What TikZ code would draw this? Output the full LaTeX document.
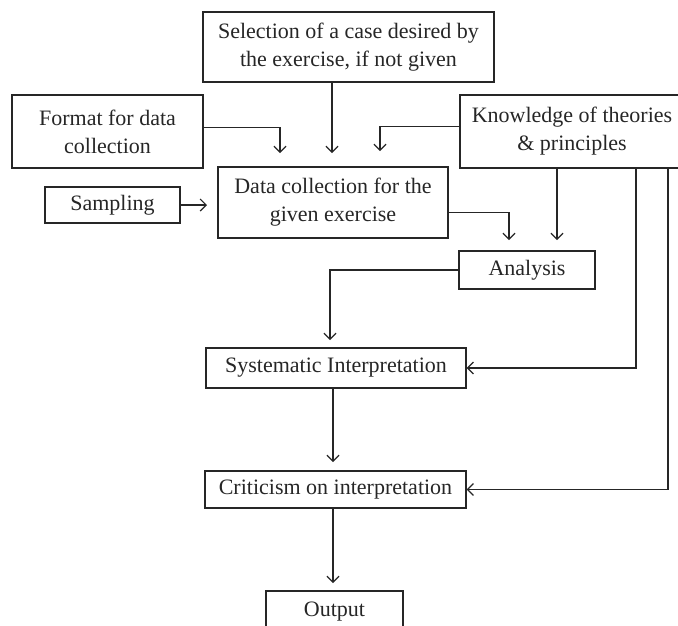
\documentclass[tikz,border=0pt]{standalone}
\usepackage{fontspec}
\setmainfont{Liberation Serif}
\usetikzlibrary{arrows.meta,calc}
\tikzset {>={Straight Barb[length=6pt,width=12pt]}}
\tikzset {blk/.style={draw,inner sep=0pt,align=center,font=\fontsize{22}{28}\selectfont}}

\begin{document}
\begin{tikzpicture}[x=1pt,y=-1pt,line width=1.2pt,color=black!85]
\useasboundingbox (0,0) rectangle (678,625);
\node[blk,minimum width=291pt,minimum height=70pt] (sel) at (348.5,47) {Selection of a case desired by\\the exercise, if not given};
\node[blk,minimum width=191pt,minimum height=73pt] (fmt) at (107.5,131.5) {Format for data\\collection};
\node[blk,minimum width=224pt,minimum height=73pt] (know) at (572,131.5) {Knowledge of theories\\\& principles};
\node[blk,minimum width=135pt,minimum height=36pt] (samp) at (112.5,205) {Sampling};
\node[blk,minimum width=230pt,minimum height=71pt] (data) at (333,202.5) {Data collection for the\\given exercise};
\node[blk,minimum width=136pt,minimum height=38pt] (ana) at (527,270) {Analysis};
\node[blk,minimum width=260pt,minimum height=40pt] (sys) at (336,368) {Systematic Interpretation};
\node[blk,minimum width=261pt,minimum height=37pt] (crit) at (335.5,489.5) {Criticism on interpretation};
\node[blk,minimum width=137pt,minimum height=42pt] (out) at (334.5,612) {Output};
\coordinate (tF) at (280,153);
\coordinate (tS) at (332,153);
\coordinate (tK) at (380,151);
\coordinate (tP) at (207,205);
\coordinate (tD) at (509,240);
\coordinate (tA) at (557,240);
\coordinate (tY) at (330,340);
\coordinate (tC) at (333,462);
\coordinate (tO) at (333,583);
\draw[->] ([yshift=4pt]fmt.east) -| (tF);
\draw[->] (sel.south -| tS) -- (tS);
\draw[->] ([yshift=5pt]know.west) -| (tK);
\draw[->] (samp.east) -- (tP);
\draw[->] ([yshift=-10pt]data.east) -| (tD);
\draw[->] (know.south -| tA) -- (tA);
\draw[->] (ana.west) -| (tY);
\draw[->] ([xshift=64pt]know.south) |- (sys.east);
\draw[->] ([xshift=96pt]know.south) |- (crit.east);
\draw[->] (sys.south -| tC) -- (tC);
\draw[->] (crit.south -| tO) -- (tO);
\end{tikzpicture}
\end{document}
